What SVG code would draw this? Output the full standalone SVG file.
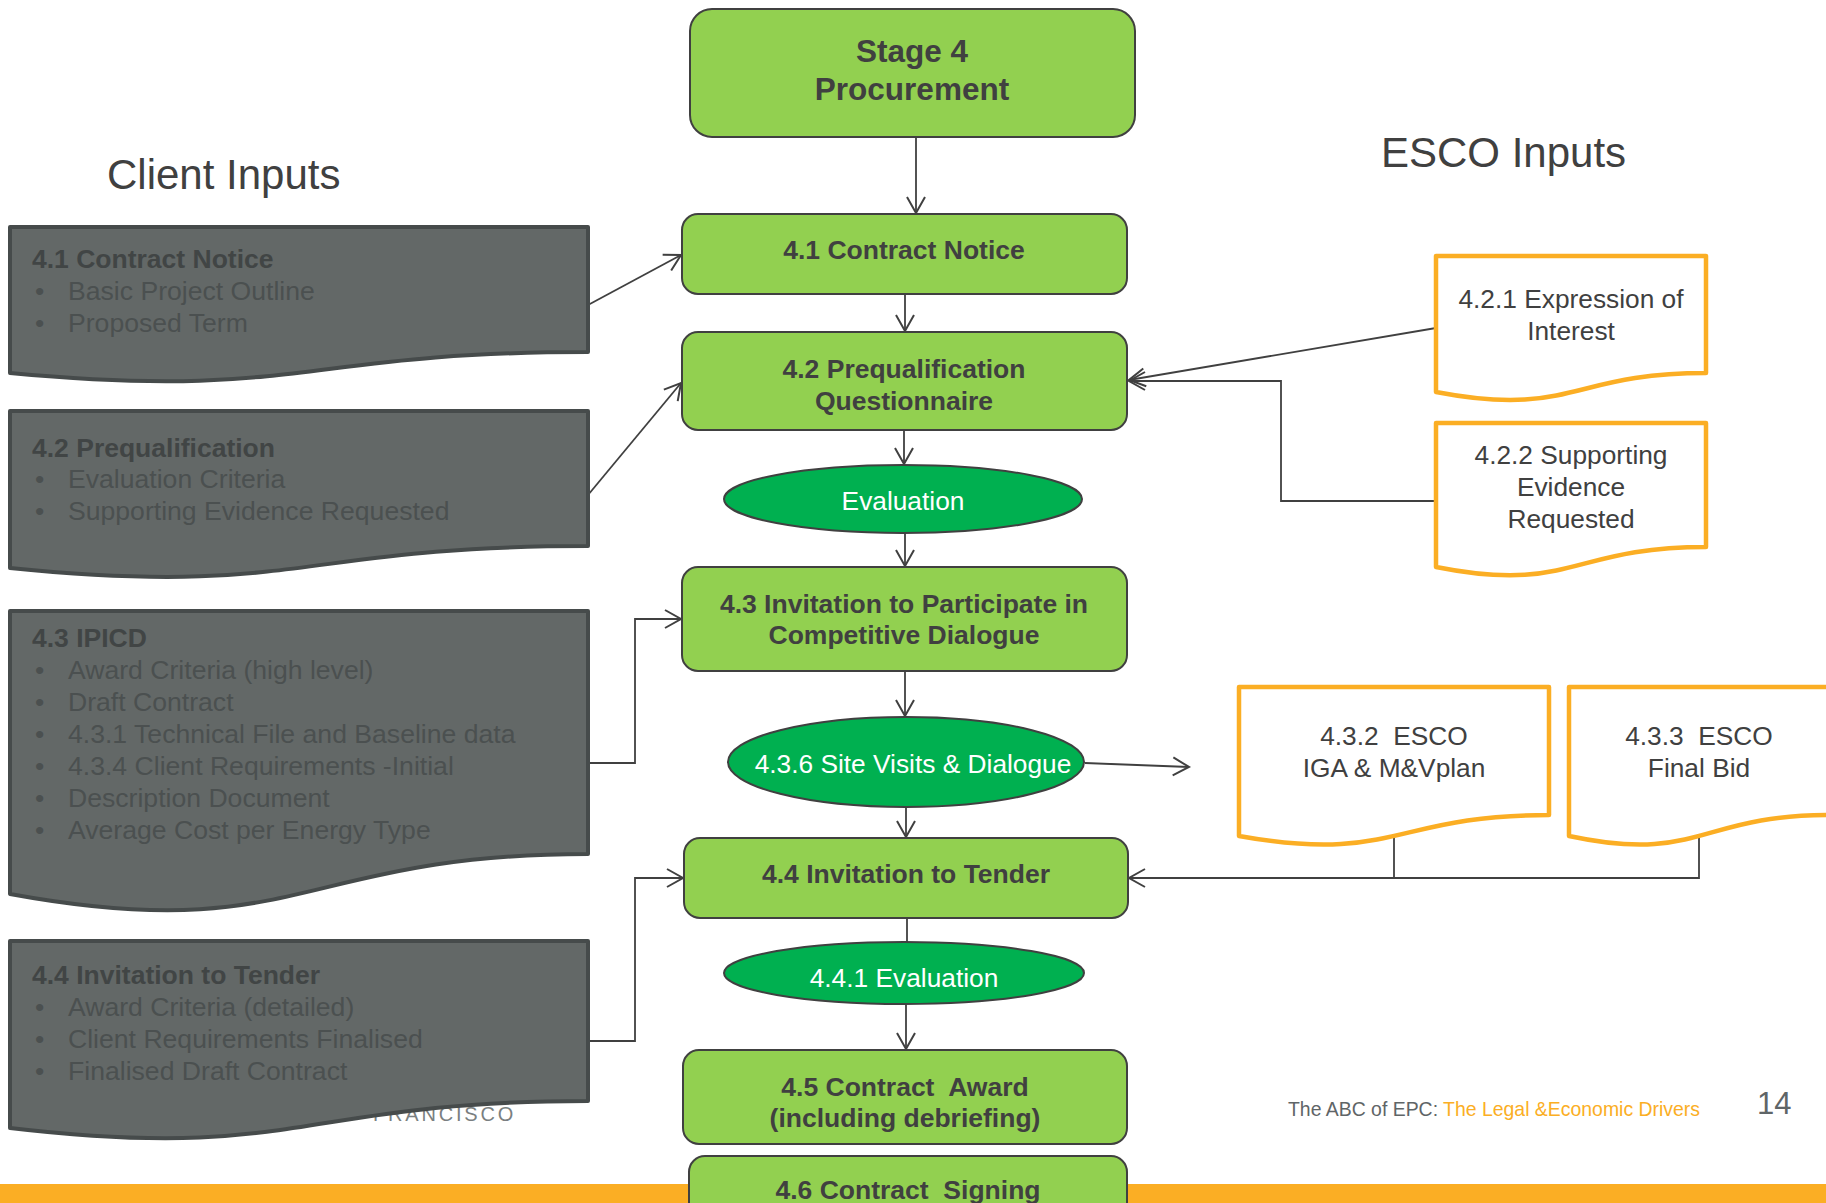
<svg xmlns="http://www.w3.org/2000/svg" width="1826" height="1203" viewBox="0 0 1826 1203">
<style>
  .green { fill: #92D050; stroke: #404040; stroke-width: 2; }
  .oval { fill: #00B050; stroke: #404040; stroke-width: 2; }
  .gdoc { fill: #636867; stroke: #464B4B; stroke-width: 4; stroke-linejoin: round; }
  .odoc { fill: #FFFFFF; stroke: #FBAE24; stroke-width: 4.5; stroke-linejoin: round; }
  .conn { fill: none; stroke: #404040; stroke-width: 1.8; }
  .bt { font-family: "Liberation Sans", Arial, sans-serif; font-weight: bold; font-size: 26.5px; fill: #404040; text-anchor: middle; }
  .ot { font-family: "Liberation Sans", Arial, sans-serif; font-size: 26.3px; fill: #FFFFFF; text-anchor: middle; }
  .et { font-family: "Liberation Sans", Arial, sans-serif; font-size: 26.3px; fill: #404040; text-anchor: middle; }
  .gh { font-family: "Liberation Sans", Arial, sans-serif; font-weight: bold; font-size: 26.5px; fill: #414545; }
  .gb { font-family: "Liberation Sans", Arial, sans-serif; font-size: 26.6px; fill: #4B5050; }
  .title { font-family: "Liberation Sans", Arial, sans-serif; font-size: 42px; fill: #404040; }
</style>
<defs>
  <marker id="arr" markerUnits="userSpaceOnUse" markerWidth="24" markerHeight="24" viewBox="-18 -12 20 24" refX="0" refY="0" orient="auto">
    <path d="M-16,-9 L0,0 L-16,9" fill="none" stroke="#404040" stroke-width="2"/>
  </marker>
</defs>
<rect x="0" y="0" width="1826" height="1203" fill="#FFFFFF"/>

<!-- background ghost text -->
<text x="373" y="1121" font-family="Liberation Sans, Arial, sans-serif" font-size="20" letter-spacing="2.8" fill="#7A7F81">FRANCISCO</text>

<!-- footer -->
<rect id="footer-band" x="0" y="1184" width="1826" height="19" fill="#FBAE24"/>
<text x="1288" y="1116" font-family="Liberation Sans, Arial, sans-serif" font-size="21" textLength="412" lengthAdjust="spacingAndGlyphs"><tspan fill="#5F6567">The ABC of EPC: </tspan><tspan fill="#FBAE24">The Legal &amp;Economic Drivers</tspan></text>
<text x="1757" y="1114" font-family="Liberation Sans, Arial, sans-serif" font-size="31" fill="#5F6567">14</text>

<!-- titles -->
<text class="title" x="107" y="189">Client Inputs</text>
<text class="title" x="1381" y="167">ESCO Inputs</text>

<!-- connectors -->
<g id="connectors">
  <line class="conn" x1="916" y1="137" x2="916" y2="213" marker-end="url(#arr)"/>
  <line class="conn" x1="905" y1="294" x2="905" y2="331" marker-end="url(#arr)"/>
  <line class="conn" x1="904" y1="430" x2="904" y2="464" marker-end="url(#arr)"/>
  <line class="conn" x1="905" y1="533" x2="905" y2="566" marker-end="url(#arr)"/>
  <line class="conn" x1="905" y1="671" x2="905" y2="716" marker-end="url(#arr)"/>
  <line class="conn" x1="906" y1="808" x2="906" y2="837" marker-end="url(#arr)"/>
  <line class="conn" x1="907" y1="918" x2="907" y2="943"/>
  <line class="conn" x1="906" y1="1004" x2="906" y2="1049" marker-end="url(#arr)"/>
  <line class="conn" x1="588" y1="305" x2="681" y2="255" marker-end="url(#arr)"/>
  <line class="conn" x1="588" y1="495" x2="681" y2="383" marker-end="url(#arr)"/>
  <polyline class="conn" points="588,763 635,763 635,619 681,619" marker-end="url(#arr)"/>
  <polyline class="conn" points="588,1041 635,1041 635,878 683,878" marker-end="url(#arr)"/>
  <line class="conn" x1="1436" y1="328" x2="1129" y2="380" marker-end="url(#arr)"/>
  <polyline class="conn" points="1436,501 1281,501 1281,381 1129,381" marker-end="url(#arr)"/>
  <line class="conn" x1="1085" y1="763" x2="1189" y2="767" marker-end="url(#arr)"/>
  <line class="conn" x1="1394" y1="838" x2="1394" y2="878"/>
  <polyline class="conn" points="1699,838 1699,878 1129,878" marker-end="url(#arr)"/>
</g>

<!-- client input documents -->
<g id="client-4-1">
  <path class="gdoc" d="M10,227 H588 V352 C299,352 299,400 10,373 Z"/>
  <text class="gh" x="32" y="268">4.1 Contract Notice</text>
  <text class="gb" x="35" y="300">•</text><text class="gb" x="68" y="300">Basic Project Outline</text>
  <text class="gb" x="35" y="332">•</text><text class="gb" x="68" y="332">Proposed Term</text>
</g>
<g id="client-4-2">
  <path class="gdoc" d="M10,411 H588 V546 C299,546 299,597 10,568 Z"/>
  <text class="gh" x="32" y="457">4.2 Prequalification</text>
  <text class="gb" x="35" y="488">•</text><text class="gb" x="68" y="488">Evaluation Criteria</text>
  <text class="gb" x="35" y="520">•</text><text class="gb" x="68" y="520">Supporting Evidence Requested</text>
</g>
<g id="client-4-3">
  <path class="gdoc" d="M10,611 H588 V854 C299,854 299,947 10,894 Z"/>
  <text class="gh" x="32" y="647">4.3 IPICD</text>
  <text class="gb" x="35" y="679">•</text><text class="gb" x="68" y="679">Award Criteria (high level)</text>
  <text class="gb" x="35" y="711">•</text><text class="gb" x="68" y="711">Draft Contract</text>
  <text class="gb" x="35" y="743">•</text><text class="gb" x="68" y="743">4.3.1 Technical File and Baseline data</text>
  <text class="gb" x="35" y="775">•</text><text class="gb" x="68" y="775">4.3.4 Client Requirements -Initial</text>
  <text class="gb" x="35" y="807">•</text><text class="gb" x="68" y="807">Description Document</text>
  <text class="gb" x="35" y="839">•</text><text class="gb" x="68" y="839">Average Cost per Energy Type</text>
</g>
<g id="client-4-4">
  <path class="gdoc" d="M10,941 H588 V1101 C299,1101 299,1162 10,1128 Z"/>
  <text class="gh" x="32" y="984">4.4 Invitation to Tender</text>
  <text class="gb" x="35" y="1016">•</text><text class="gb" x="68" y="1016">Award Criteria (detailed)</text>
  <text class="gb" x="35" y="1048">•</text><text class="gb" x="68" y="1048">Client Requirements Finalised</text>
  <text class="gb" x="35" y="1080">•</text><text class="gb" x="68" y="1080">Finalised Draft Contract</text>
</g>

<!-- main process -->
<g id="stage4">
  <rect class="green" x="690" y="9" width="445" height="128" rx="22" ry="22"/>
  <text class="bt" x="912" y="62" style="font-size:31.5px">Stage 4</text>
  <text class="bt" x="912" y="100" style="font-size:31.5px">Procurement</text>
</g>
<g id="p4-1">
  <rect class="green" x="682" y="214" width="445" height="80" rx="16" ry="16"/>
  <text class="bt" x="904" y="259">4.1 Contract Notice</text>
</g>
<g id="p4-2">
  <rect class="green" x="682" y="332" width="445" height="98" rx="16" ry="16"/>
  <text class="bt" x="904" y="378">4.2 Prequalification</text>
  <text class="bt" x="904" y="410">Questionnaire</text>
</g>
<g id="eval">
  <ellipse class="oval" cx="903" cy="499" rx="179" ry="34"/>
  <text class="ot" x="903" y="510">Evaluation</text>
</g>
<g id="p4-3">
  <rect class="green" x="682" y="567" width="445" height="104" rx="16" ry="16"/>
  <text class="bt" x="904" y="613">4.3 Invitation to Participate in</text>
  <text class="bt" x="904" y="644">Competitive Dialogue</text>
</g>
<g id="site-visits">
  <ellipse class="oval" cx="906" cy="762" rx="178" ry="45"/>
  <text class="ot" x="913" y="773">4.3.6 Site Visits &amp; Dialogue</text>
</g>
<g id="p4-4">
  <rect class="green" x="684" y="838" width="444" height="80" rx="16" ry="16"/>
  <text class="bt" x="906" y="883">4.4 Invitation to Tender</text>
</g>
<g id="eval2">
  <ellipse class="oval" cx="904" cy="973" rx="180" ry="31"/>
  <text class="ot" x="904" y="987">4.4.1 Evaluation</text>
</g>
<g id="p4-5">
  <rect class="green" x="683" y="1050" width="444" height="94" rx="16" ry="16"/>
  <text class="bt" x="905" y="1096" xml:space="preserve">4.5 Contract  Award</text>
  <text class="bt" x="905" y="1127">(including debriefing)</text>
</g>
<g id="p4-6">
  <rect class="green" x="689" y="1156" width="438" height="70" rx="16" ry="16"/>
  <text class="bt" x="908" y="1199" xml:space="preserve">4.6 Contract  Signing</text>
</g>

<!-- ESCO inputs -->
<g id="esco-4-2-1">
  <path class="odoc" d="M1436,256 H1706 V373 C1571,373 1571,418 1436,392 Z"/>
  <text class="et" x="1571" y="308">4.2.1 Expression of</text>
  <text class="et" x="1571" y="340">Interest</text>
</g>
<g id="esco-4-2-2">
  <path class="odoc" d="M1436,423 H1706 V547 C1571,547 1571,594 1436,567 Z"/>
  <text class="et" x="1571" y="464">4.2.2 Supporting</text>
  <text class="et" x="1571" y="496">Evidence</text>
  <text class="et" x="1571" y="528">Requested</text>
</g>
<g id="esco-4-3-2">
  <path class="odoc" d="M1239,687 H1549 V815 C1394,815 1394,864 1239,836 Z"/>
  <text class="et" x="1394" y="745" xml:space="preserve">4.3.2  ESCO</text>
  <text class="et" x="1394" y="777">IGA &amp; M&amp;Vplan</text>
</g>
<g id="esco-4-3-3">
  <path class="odoc" d="M1569,687 H1830 V815 C1699,815 1699,864 1569,836 Z"/>
  <text class="et" x="1699" y="745" xml:space="preserve">4.3.3  ESCO</text>
  <text class="et" x="1699" y="777">Final Bid</text>
</g>
</svg>
